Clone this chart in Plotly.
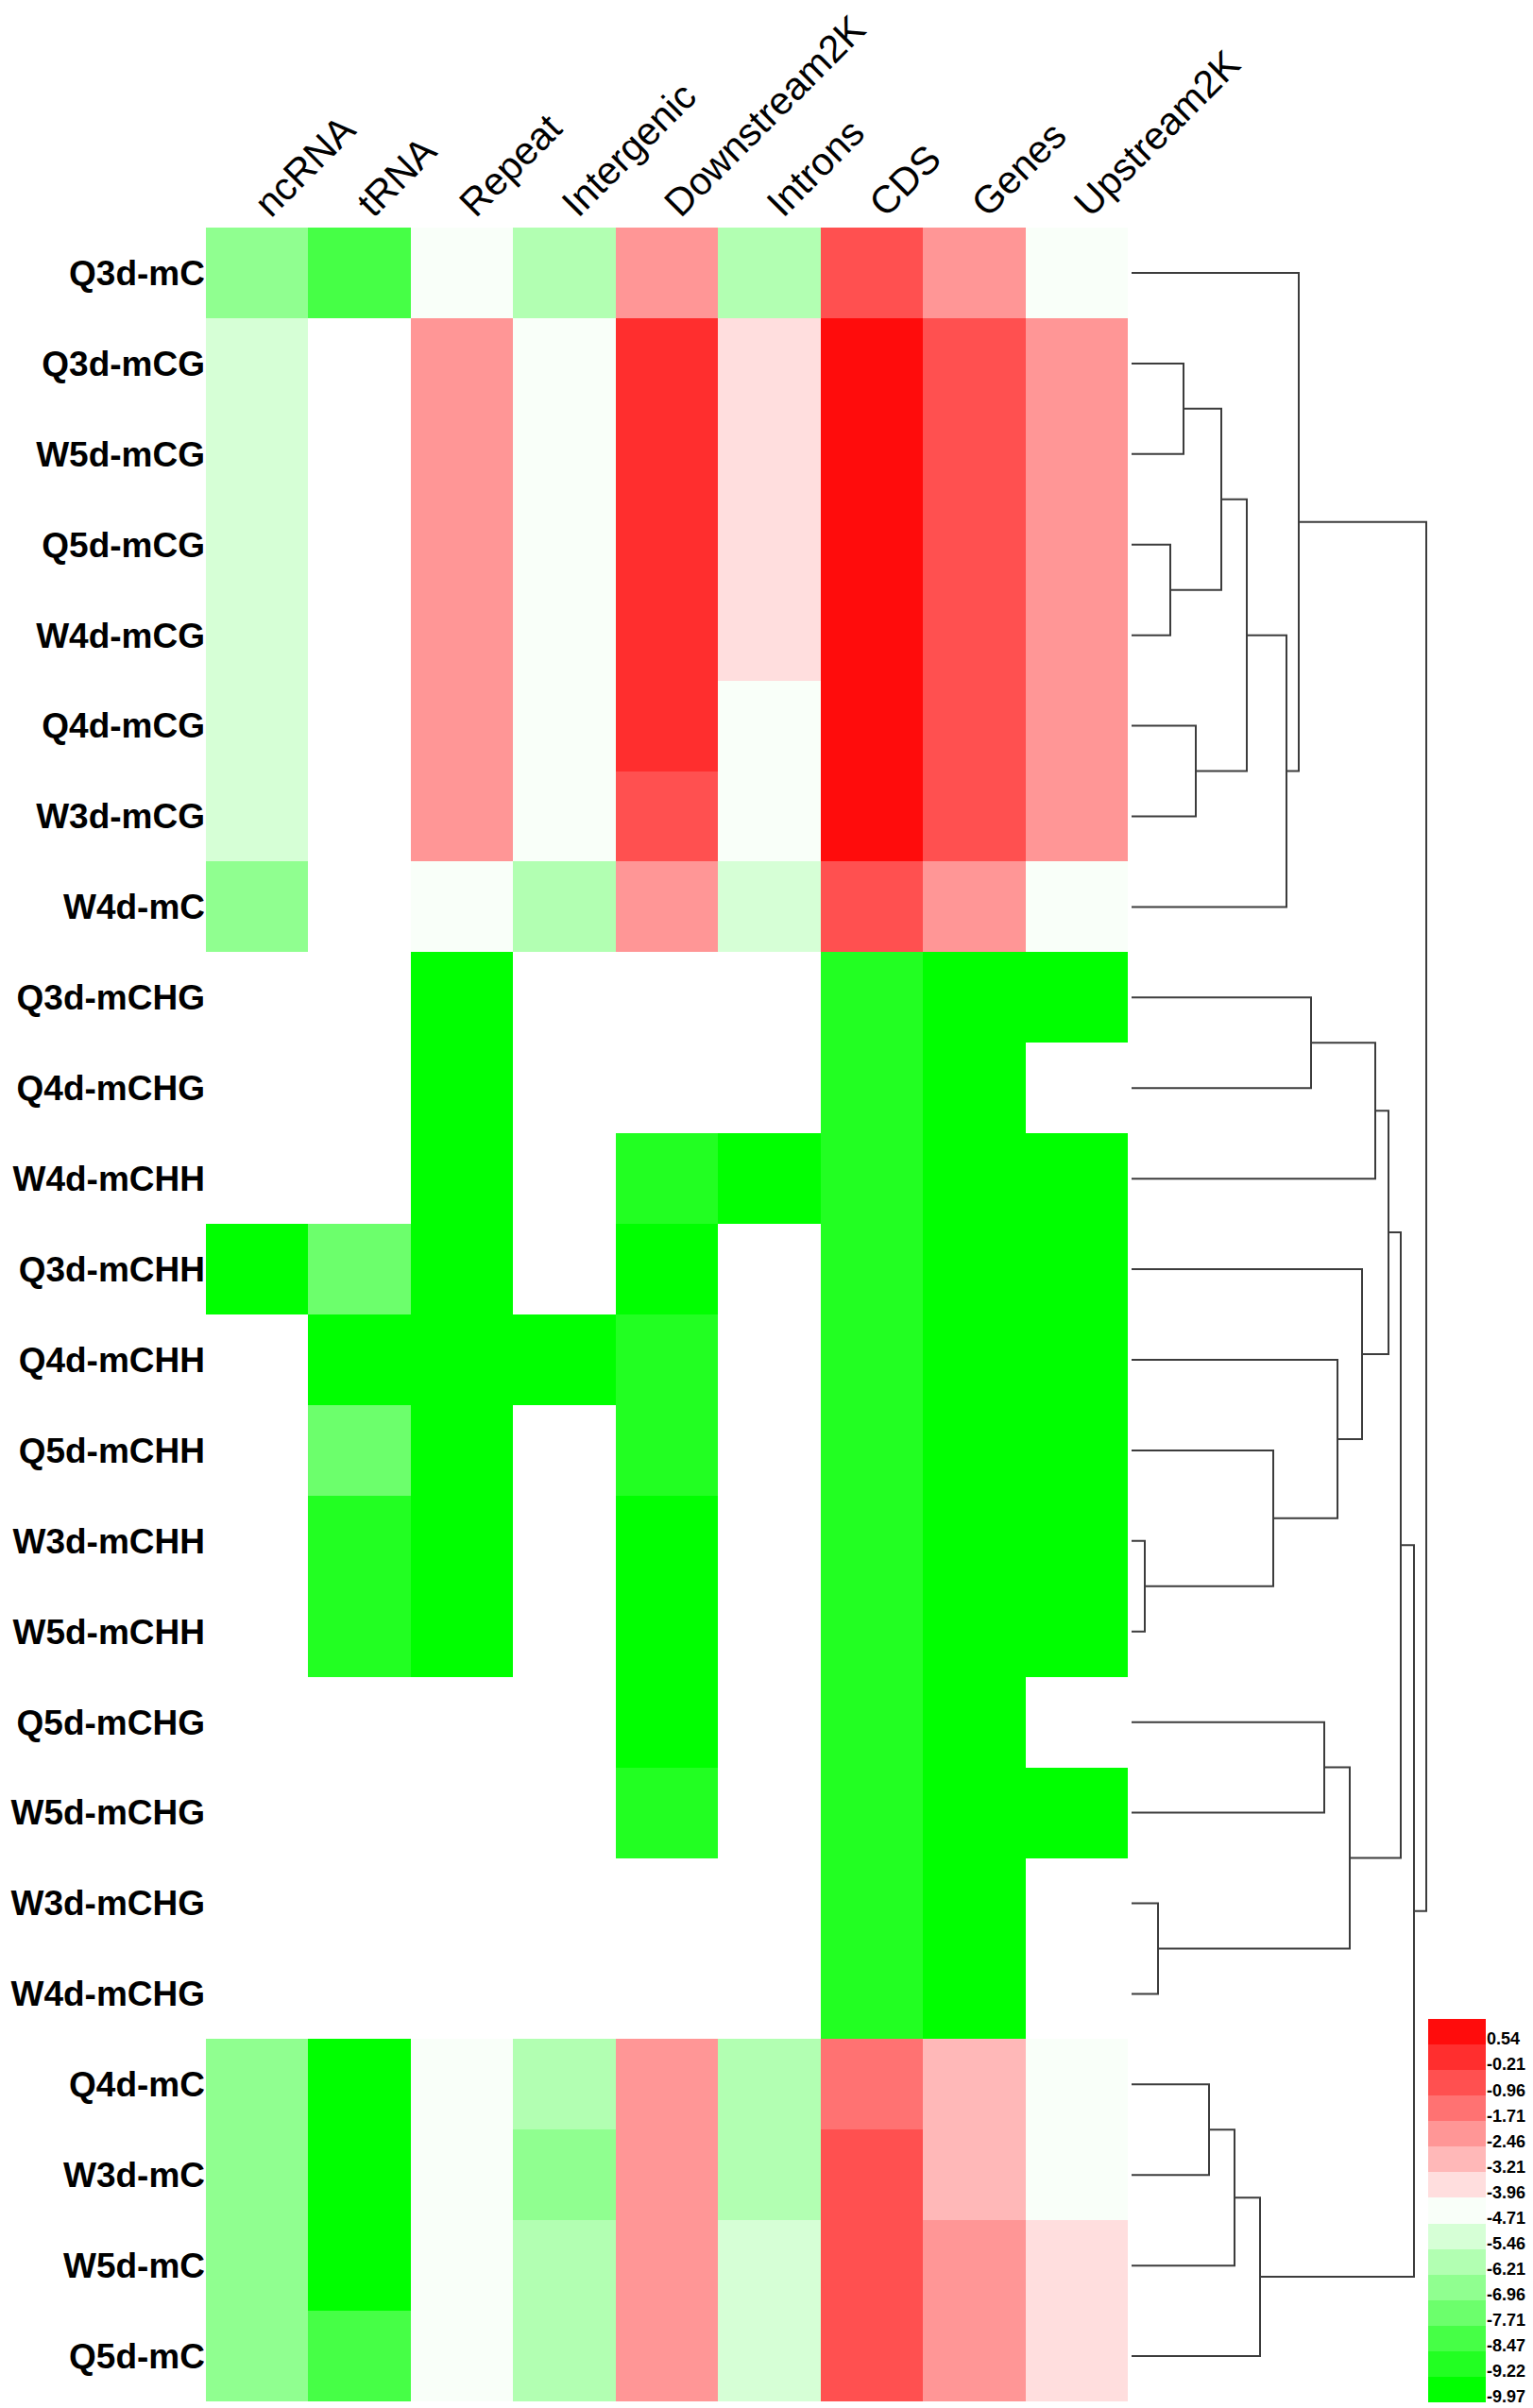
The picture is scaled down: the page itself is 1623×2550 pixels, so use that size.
import plotly.graph_objects as go

# the page body adds an 8px margin, so the figure is sized to the window
PAD = 8
W, H = 1623 - PAD, 2550 - PAD


def fx(px):
    # window pixel -> paper fraction (x)
    return (px - PAD) / W


def fy(py):
    # window pixel -> paper fraction (y, from the top)
    return 1 - (py - PAD) / H


# columns / rows of the heatmap
columns = ["ncRNA", "tRNA", "Repeat", "Intergenic", "Downstream2K",
           "Introns", "CDS", "Genes", "Upstream2K"]
rows = ["Q3d-mC", "Q3d-mCG", "W5d-mCG", "Q5d-mCG", "W4d-mCG", "Q4d-mCG",
        "W3d-mCG", "W4d-mC", "Q3d-mCHG", "Q4d-mCHG", "W4d-mCHH", "Q3d-mCHH",
        "Q4d-mCHH", "Q5d-mCHH", "W3d-mCHH", "W5d-mCHH", "Q5d-mCHG",
        "W5d-mCHG", "W3d-mCHG", "W4d-mCHG", "Q4d-mC", "W3d-mC", "W5d-mC",
        "Q5d-mC"]

n = None  # no value -> blank cell
values = [
    [-6.96, -8.47, -4.71, -6.21, -2.46, -6.21, -0.96, -2.46, -4.71],
    [-5.46, n, -2.46, -4.71, -0.21, -3.96, 0.54, -0.96, -2.46],
    [-5.46, n, -2.46, -4.71, -0.21, -3.96, 0.54, -0.96, -2.46],
    [-5.46, n, -2.46, -4.71, -0.21, -3.96, 0.54, -0.96, -2.46],
    [-5.46, n, -2.46, -4.71, -0.21, -3.96, 0.54, -0.96, -2.46],
    [-5.46, n, -2.46, -4.71, -0.21, -4.71, 0.54, -0.96, -2.46],
    [-5.46, n, -2.46, -4.71, -0.96, -4.71, 0.54, -0.96, -2.46],
    [-6.96, n, -4.71, -6.21, -2.46, -5.46, -0.96, -2.46, -4.71],
    [n, n, -9.97, n, n, n, -9.22, -9.97, -9.97],
    [n, n, -9.97, n, n, n, -9.22, -9.97, n],
    [n, n, -9.97, n, -9.22, -9.97, -9.22, -9.97, -9.97],
    [-9.97, -7.71, -9.97, n, -9.97, n, -9.22, -9.97, -9.97],
    [n, -9.97, -9.97, -9.97, -9.22, n, -9.22, -9.97, -9.97],
    [n, -7.71, -9.97, n, -9.22, n, -9.22, -9.97, -9.97],
    [n, -9.22, -9.97, n, -9.97, n, -9.22, -9.97, -9.97],
    [n, -9.22, -9.97, n, -9.97, n, -9.22, -9.97, -9.97],
    [n, n, n, n, -9.97, n, -9.22, -9.97, n],
    [n, n, n, n, -9.22, n, -9.22, -9.97, -9.97],
    [n, n, n, n, n, n, -9.22, -9.97, n],
    [n, n, n, n, n, n, -9.22, -9.97, n],
    [-6.96, -9.97, -4.71, -6.21, -2.46, -6.21, -1.71, -3.21, -4.71],
    [-6.96, -9.97, -4.71, -6.96, -2.46, -6.21, -0.96, -3.21, -4.71],
    [-6.96, -9.97, -4.71, -6.21, -2.46, -5.46, -0.96, -2.46, -3.96],
    [-6.96, -8.47, -4.71, -6.21, -2.46, -5.46, -0.96, -2.46, -3.96],
]

# colour key labels (top to bottom) and bin colours (bottom to top)
key_labels = ["0.54", "-0.21", "-0.96", "-1.71", "-2.46", "-3.21", "-3.96",
              "-4.71", "-5.46", "-6.21", "-6.96", "-7.71", "-8.47", "-9.22",
              "-9.97"]
bin_colors = ["#00FF00", "#22FF22", "#46FF46", "#6CFF6C", "#90FF90",
              "#B2FFB2", "#D6FFD6", "#F9FFF9", "#FFDEDE", "#FFB8B8",
              "#FF9696", "#FF7272", "#FF5050", "#FF2E2E", "#FF0C0C"]

# row dendrogram: leaves are row indices, merges get ids 24, 25, ...
merges = [
    (1, 2, 0.55), (3, 4, 0.41), (24, 25, 0.95), (5, 6, 0.68),
    (26, 27, 1.22), (28, 7, 1.64), (0, 29, 1.77),
    (8, 9, 1.90), (31, 10, 2.58), (14, 15, 0.14), (13, 33, 1.50),
    (12, 34, 2.18), (11, 35, 2.44), (32, 36, 2.72),
    (16, 17, 2.04), (18, 19, 0.28), (38, 39, 2.31), (37, 40, 2.85),
    (20, 21, 0.82), (42, 22, 1.09), (43, 23, 1.36), (41, 44, 2.99),
    (30, 45, 3.12),
]

# discrete colour scale, one band per key bin
nb = len(bin_colors)
colorscale = []
for i, c in enumerate(bin_colors):
    colorscale.append([i / nb, c])
    colorscale.append([(i + 1) / nb, c])
step = 0.75
zmax = float(key_labels[0]) + 0.55
zmin = zmax - nb * step

FONT = "Liberation Sans, Arial"

fig = go.Figure()

# main heatmap
fig.add_trace(go.Heatmap(
    z=values,
    x=list(range(len(columns))),
    y=list(range(len(rows))),
    colorscale=colorscale, zmin=zmin, zmax=zmax,
    showscale=False, hoverongaps=False,
))

# colour key drawn as a one-column heatmap
key_vals = [[float(v)] for v in key_labels]
fig.add_trace(go.Heatmap(
    z=key_vals, x=[0], y=list(range(nb)),
    colorscale=colorscale, zmin=zmin, zmax=zmax,
    showscale=False, xaxis="x3", yaxis="y3",
))

# dendrogram segments
node_y = {i: float(i) for i in range(len(rows))}
node_h = {i: 0.0 for i in range(len(rows))}
dx, dy = [], []
for k, (a, b, h) in enumerate(merges):
    nid = len(rows) + k
    dx += [node_h[a], h, h, node_h[b], None]
    dy += [node_y[a], node_y[a], node_y[b], node_y[b], None]
    node_y[nid] = (node_y[a] + node_y[b]) / 2
    node_h[nid] = h

fig.add_trace(go.Scatter(
    x=dx, y=dy, xaxis="x2", yaxis="y", mode="lines",
    line=dict(color="#3c3c3c", width=2), hoverinfo="skip",
    showlegend=False,
))

fig.update_layout(
    width=W, height=H,
    margin=dict(l=0, r=0, t=0, b=0, autoexpand=False),
    paper_bgcolor="white", plot_bgcolor="white",
    showlegend=False,
    xaxis=dict(
        domain=[fx(218), fx(1194)], range=[-0.5, len(columns) - 0.5],
        side="top", tickvals=list(range(len(columns))), ticktext=columns,
        tickangle=-45, ticks="", showgrid=False, zeroline=False,
        showline=False, automargin=False, ticklabelstandoff=-6,
        tickfont=dict(family=FONT, size=41, color="black"),
    ),
    xaxis2=dict(
        domain=[fx(1198), fx(1515)], range=[0, 3.17], anchor="y",
        visible=False,
    ),
    yaxis=dict(
        domain=[fy(2543), fy(241)],
        range=[len(rows) - 0.5, -0.5],
        tickvals=list(range(len(rows))), ticktext=rows,
        ticks="", showgrid=False, zeroline=False, showline=False,
        automargin=False,
        tickfont=dict(family=FONT, size=37, color="black", weight="bold"),
    ),
    xaxis3=dict(
        domain=[fx(1512), fx(1573)], range=[-0.5, 0.5], anchor="y3",
        visible=False,
    ),
    yaxis3=dict(
        domain=[fy(2544), fy(2138)], range=[nb - 0.5, -0.5],
        anchor="x3", side="right",
        tickvals=[i + 0.28 for i in range(nb)], ticktext=key_labels,
        ticks="", showgrid=False, zeroline=False, showline=False,
        automargin=False,
        tickfont=dict(family=FONT, size=18, color="black", weight="bold"),
    ),
)

fig.write_html("out.html")
